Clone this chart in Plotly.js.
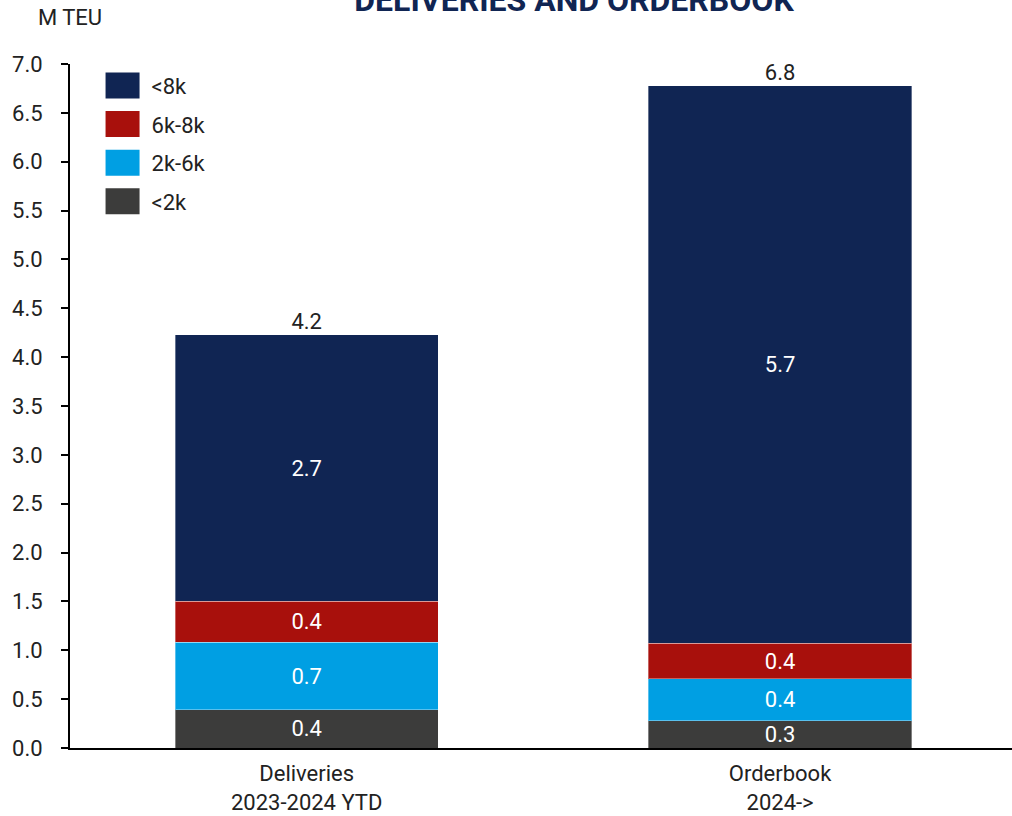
<!DOCTYPE html>
<html>
<head>
<meta charset="utf-8">
<script src="https://cdn.plot.ly/plotly-3.0.1.min.js"></script>
<style>html,body{margin:0;padding:0;background:#fff;}#chart{width:1012px;height:816px;}</style>
</head>
<body>
<div id="chart"></div>
<script>
// ---- data ----
const categories = ["Deliveries<br>2023-2024 YTD", "Orderbook<br>2024->"];
const seriesNames = ["<2k", "2k-6k", "6k-8k", "<8k"];
const under2k = [0.39, 0.28];
const from2kTo6k = [0.69, 0.43];
const from6kTo8k = [0.42, 0.36];
const over8k = [2.73, 5.71];
const yTicks = [0, 0.5, 1, 1.5, 2, 2.5, 3, 3.5, 4, 4.5, 5, 5.5, 6, 6.5, 7];

const seriesValues = [under2k, from2kTo6k, from6kTo8k, over8k];
const colors = ["#3c3c3b", "#009fe3", "#a8100c", "#102553"];
const FONT = "Roboto, 'DejaVu Sans', sans-serif";
const FS = 22;

const traces = seriesValues.map((vals, i) => ({
  type: "bar",
  name: seriesNames[i],
  x: categories,
  y: vals,
  width: 0.556,
  marker: { color: colors[i], line: { color: "rgba(255,255,255,0.35)", width: 1 } },
  text: vals.map(v => v.toFixed(1)),
  textposition: "inside",
  insidetextanchor: "middle",
  constraintext: "none",
  textangle: 0,
  textfont: { family: FONT, size: FS, color: "#ffffff" },
  legendgroup: "g" + i,
  legendrank: seriesValues.length - i,
  hoverinfo: "skip"
}));

const totals = categories.map((_, j) => seriesValues.reduce((s, arr) => s + arr[j], 0));
traces.push({
  type: "scatter",
  mode: "text",
  x: categories,
  y: totals,
  text: totals.map(v => v.toFixed(1)),
  textposition: "top center",
  textfont: { family: FONT, size: FS, color: "#222222" },
  showlegend: false,
  hoverinfo: "skip",
  cliponaxis: false
});

const layout = {
  width: 1012,
  height: 816,
  margin: { l: 70, r: 0, t: 64, b: 68 },
  paper_bgcolor: "#ffffff",
  plot_bgcolor: "#ffffff",
  barmode: "stack",
  font: { family: FONT, size: FS, color: "#222222" },
  title: {
    text: "<b>DELIVERIES AND ORDERBOOK</b>",
    font: { family: FONT, size: 32, color: "#102553" },
    x: 574 / 1012, xanchor: "center", xref: "container",
    y: 1.0, yanchor: "middle", yref: "container"
  },
  xaxis: {
    type: "category",
    range: [-0.5, 1.49],
    showline: true, linecolor: "#000000", linewidth: 2,
    ticks: "", showgrid: false, zeroline: false,
    ticklabelstandoff: 5,
    tickfont: { family: FONT, size: FS, color: "#222222" },
    fixedrange: true
  },
  yaxis: {
    range: [0, 7],
    tickvals: yTicks,
    tickformat: ".1f",
    showline: true, linecolor: "#000000", linewidth: 2,
    ticks: "outside", ticklen: 7, tickwidth: 2, tickcolor: "#000000",
    ticklabelstandoff: 14,
    showgrid: false, zeroline: false,
    tickfont: { family: FONT, size: FS, color: "#222222" },
    fixedrange: true
  },
  showlegend: true,
  legend: {
    x: 0.025, y: 0.999, xanchor: "left", yanchor: "top",
    traceorder: "grouped",
    tracegroupgap: 7,
    itemwidth: 48,
    font: { family: FONT, size: FS, color: "#222222" },
    bgcolor: "rgba(0,0,0,0)"
  },
  annotations: [{
    text: "M TEU", xref: "paper", yref: "paper",
    x: -0.036, y: 1.0, yshift: 47, xanchor: "left", yanchor: "middle",
    showarrow: false, font: { family: FONT, size: FS, color: "#222222" }
  }]
};

Plotly.newPlot("chart", traces, layout, { displayModeBar: false, staticPlot: true }).then(() => {
  document.querySelectorAll(".legend .traces .legendpoints path").forEach(p => {
    p.setAttribute("d", "M17,13H-17V-13H17Z");
    p.style.strokeWidth = "0";
  });
});
</script>
</body>
</html>
